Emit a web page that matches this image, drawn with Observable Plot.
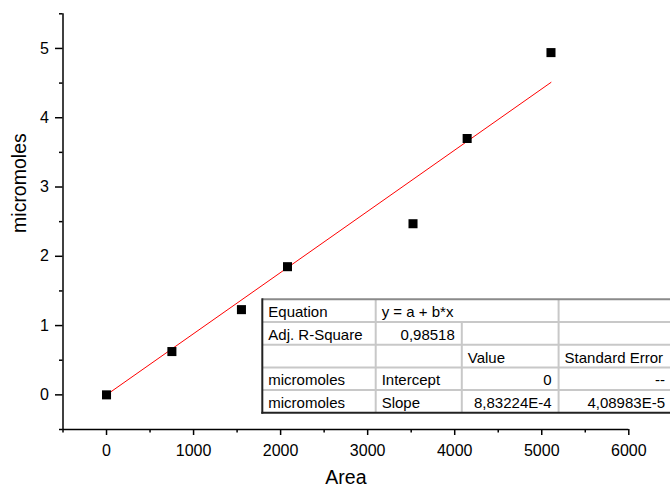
<!DOCTYPE html>
<html><head><meta charset="utf-8">
<script src="https://cdn.jsdelivr.net/npm/d3@7"></script>
<script src="https://cdn.jsdelivr.net/npm/@observablehq/plot@0.6"></script>
<style>body{margin:0;background:#fff}#chart{width:670px;height:487px}</style>
</head><body><div id="chart"></div>
<script>
// ---- data ----
const area = [0, 751, 1550, 2079, 3521, 4143, 5106];
const micromoles = [0, 0.625, 1.23, 1.85, 2.47, 3.70, 4.94];
const slope = 8.83224e-4;      // fitted slope (intercept fixed at 0)
const intercept = 0;
const xMajorTicks = [0, 1000, 2000, 3000, 4000, 5000, 6000];
const xMinorTicks = [-500, 500, 1500, 2500, 3500, 4500, 5500];
const yMajorTicks = [0, 1, 2, 3, 4, 5];
const yMinorTicks = [-0.5, 0.5, 1.5, 2.5, 3.5, 4.5, 5.5];
const tableRow1 = ["Equation", "y = a + b*x", "", ""];
const tableRow2 = ["Adj. R-Square", "0,98518", "", ""];
const tableRow3 = ["", "", "Value", "Standard Error"];
const tableRow4 = ["micromoles", "Intercept", "0", "--"];
const tableRow5 = ["micromoles", "Slope", "8,83224E-4", "4,08983E-5"];

const points = area.map((a, i) => ({area: a, mol: micromoles[i]}));
const fitEnds = [d3.min(area), d3.max(area)].map(a => ({area: a, mol: intercept + slope * a}));

const font = "'Liberation Sans', Arial, Helvetica, sans-serif";
const plain = d => String(d);

const plot = Plot.plot({
  width: 670, height: 487,
  marginLeft: 62.5, marginRight: 41.7, marginTop: 13.3, marginBottom: 58,
  x: {domain: [-500, 6000]},
  y: {domain: [-0.5, 5.5]},
  style: {fontFamily: font, background: "white", color: "black", overflow: "visible"},
  marks: [
    Plot.ruleX([-500], {strokeWidth: 1.5}),
    Plot.ruleY([-0.5], {strokeWidth: 1.5}),
    Plot.axisX(xMajorTicks, {tickSize: 6, tickPadding: 9, fontSize: 16, strokeWidth: 1.5, label: null, tickFormat: plain}),
    Plot.axisX(xMinorTicks, {tickSize: 3.5, fill: "none", strokeWidth: 1.5, label: null}),
    Plot.axisY(yMajorTicks, {tickSize: 7.5, tickPadding: 6.7, fontSize: 16, strokeWidth: 1.5, label: null, tickFormat: plain}),
    Plot.axisY(yMinorTicks, {tickSize: 3.5, fill: "none", strokeWidth: 1.5, label: null}),
    Plot.line(fitEnds, {x: "area", y: "mol", stroke: "#ff0000", strokeWidth: 1}),
    Plot.dot(points, {x: "area", y: "mol", symbol: "square", r: 5.1, fill: "black"}),
    Plot.text(["Area"], {text: d => d, frameAnchor: "bottom", dy: 54, lineAnchor: "bottom", fontSize: 19.5}),
    Plot.text(["micromoles"], {text: d => d, frameAnchor: "left", rotate: -90, dx: -37.5, dy: 11.3, lineAnchor: "bottom", fontSize: 19.5})
  ]
});
document.getElementById("chart").appendChild(plot);

// ---- fit result table (annotation) ----
const rows = [tableRow1, tableRow2, tableRow3, tableRow4, tableRow5];
const colX = [262.3, 375.7, 461.8, 558.6, 672];
const rowY = [299.3, 322, 344.7, 367.4, 390, 412.7];
const isNum = s => /^[-0-9,.E]+$/.test(s);
const svg = d3.select(plot);
const g = svg.append("g").attr("font-family", font).attr("font-size", 15);
g.append("rect").attr("x", colX[0]).attr("y", rowY[0])
  .attr("width", colX[4] - colX[0]).attr("height", rowY[5] - rowY[0]).attr("fill", "white");
const light = "#c8c8c8";
for (let r = 1; r < 5; r++) {
  g.append("line").attr("x1", colX[0]).attr("x2", colX[4]).attr("y1", rowY[r]).attr("y2", rowY[r])
    .attr("stroke", light).attr("stroke-width", 2);
}
[[1, 0], [2, 1], [3, 0]].forEach(([c, r0]) => {
  g.append("line").attr("x1", colX[c]).attr("x2", colX[c]).attr("y1", rowY[r0]).attr("y2", rowY[5])
    .attr("stroke", light).attr("stroke-width", 2);
});
g.append("line").attr("x1", colX[0]).attr("x2", colX[4]).attr("y1", rowY[0]).attr("y2", rowY[0])
  .attr("stroke", "#8a8a8a").attr("stroke-width", 2);
g.append("line").attr("x1", colX[4]).attr("x2", colX[4]).attr("y1", rowY[0]).attr("y2", rowY[5])
  .attr("stroke", "#8a8a8a").attr("stroke-width", 2);
g.append("line").attr("x1", colX[0]).attr("x2", colX[0]).attr("y1", rowY[0] - 1).attr("y2", rowY[5] + 1)
  .attr("stroke", "#222").attr("stroke-width", 2);
g.append("line").attr("x1", colX[0] - 1).attr("x2", colX[4]).attr("y1", rowY[5]).attr("y2", rowY[5])
  .attr("stroke", "#222").attr("stroke-width", 2);
rows.forEach((row, r) => {
  row.forEach((txt, c) => {
    if (!txt) return;
    const right = isNum(txt);
    g.append("text")
      .attr("x", right ? colX[c + 1] - 7 : colX[c] + 6)
      .attr("y", rowY[r] + 18)
      .attr("text-anchor", right ? "end" : "start")
      .attr("fill", "black")
      .text(txt);
  });
});
</script>
</body></html>
